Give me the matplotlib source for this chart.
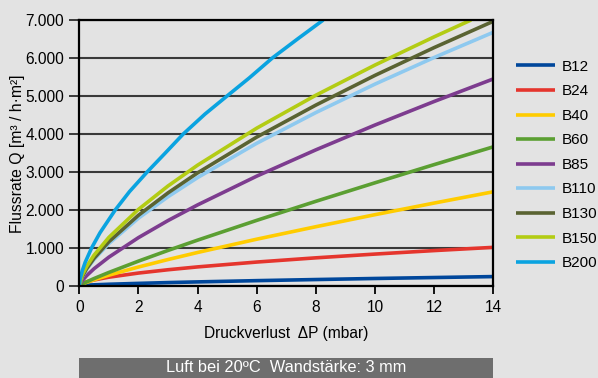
import matplotlib.pyplot as plt
from matplotlib.patches import Rectangle

plt.rcParams['font.family'] = ['Liberation Sans', 'DejaVu Sans']

# Druckverlust (mbar) und Flussrate (m3/h*m2) je Typ
dp = [0, 0.1, 0.25, 0.5, 1, 2, 3, 4, 6, 8, 10, 12, 14]
q_b12 = [0, 8, 14, 23, 38, 61, 82, 100, 133, 162, 190, 215, 240]
q_b24 = [0, 60, 102, 151, 224, 333, 420, 495, 623, 734, 833, 925, 1010]
q_b40 = [0, 41, 88, 156, 277, 492, 689, 875, 1225, 1554, 1871, 2177, 2474]
q_b60 = [0, 45, 102, 189, 349, 647, 929, 1200, 1721, 2223, 2711, 3190, 3658]
q_b85 = [0, 134, 266, 448, 752, 1266, 1716, 2128, 2886, 3579, 4233, 4853, 5447]
q_b110 = [0, 232, 432, 692, 1110, 1778, 2344, 2848, 3752, 4561, 5311, 6012, 6676]
q_b130 = [0, 242, 451, 722, 1158, 1855, 2445, 2972, 3915, 4758, 5541, 6273, 6966]

dp_b150 = [0, 0.1, 0.25, 0.5, 1, 2, 3, 4, 6, 8, 10, 12, 13.25]
q_b150 = [0, 278, 509, 806, 1273, 2010, 2627, 3175, 4150, 5018, 5813, 6556, 7000]

dp_b200 = [0, 0.03, 0.1, 0.2, 0.42, 0.7, 1.22, 1.7, 2.3, 2.9, 3.52, 4.25,
           5.0, 5.75, 6.53, 7.4, 8.25]
q_b200 = [0, 180, 393, 617, 1000, 1394, 2000, 2481, 3000, 3489, 4000, 4521,
          5000, 5475, 6000, 6511, 7000]

names = ['B12', 'B24', 'B40', 'B60', 'B85', 'B110', 'B130', 'B150', 'B200']
colors = ['#00479b', '#e5352d', '#ffcc00', '#5b9f32', '#7d3c8f',
          '#8ec9ef', '#5a6332', '#b3cc14', '#0aa3e0']

xticks = [0, 2, 4, 6, 8, 10, 12, 14]
yticks = [0, 1000, 2000, 3000, 4000, 5000, 6000, 7000]
ytick_labels = ['0', '1.000', '2.000', '3.000', '4.000', '5.000', '6.000', '7.000']

bg = '#e3e3e3'
fs = 11.2

fig = plt.figure(figsize=(5.98, 3.78), dpi=100)
fig.patch.set_facecolor(bg)
ax = fig.add_axes([0.1326, 0.2442, 0.6923, 0.7029])
ax.set_facecolor(bg)

series = [
    (dp, q_b12), (dp, q_b24), (dp, q_b40), (dp, q_b60), (dp, q_b85),
    (dp, q_b110), (dp, q_b130), (dp_b150, q_b150), (dp_b200, q_b200),
]
for (x, y), name, c in zip(series, names, colors):
    ax.plot(x, y, color=c, lw=2.6, label=name, solid_capstyle='butt')

ax.set_xlim(0, 14)
ax.set_ylim(0, 7000)
ax.set_xticks(xticks)
ax.set_yticks(yticks)
ax.set_yticklabels(ytick_labels)
ax.tick_params(axis='both', labelsize=fs, colors='black', pad=4)
ax.tick_params(axis='x', length=6, width=1.3, direction='out')
ax.tick_params(axis='y', length=7, width=1.4, direction='out', color='#3a3a3a')
ax.grid(axis='y', color='#3a3a3a', lw=1.5)
ax.set_axisbelow(True)
for side in ['left', 'bottom', 'top', 'right']:
    ax.spines[side].set_color('black')
    ax.spines[side].set_linewidth(1.6)

ax.set_xlabel('Druckverlust  ΔP (mbar)', fontsize=fs, labelpad=8)
fig.text(18 / 598, 1 - 154 / 378, 'Flussrate Q [m³ / h·m²]', fontsize=11.3,
         rotation=90, ha='center', va='center')

leg = fig.legend(loc='upper left', bbox_to_anchor=(0.8527, 0.858),
                 frameon=False, fontsize=11, handlelength=2.55,
                 handletextpad=0.46, labelspacing=0.69, borderaxespad=0)
for h in leg.get_lines():
    h.set_linewidth(2.6)

# Hinweisbalken unter dem Diagramm
fig.patches.append(Rectangle((0.1326, 0.0), 0.6923, 20 / 378,
                             transform=fig.transFigure, facecolor='#6e6e6e',
                             edgecolor='none'))
fig.text(0.1326 + 0.6923 / 2, 10 / 378, 'Luft bei 20ºC  Wandstärke: 3 mm',
         color='white', fontsize=11.8, ha='center', va='center')

fig.savefig('out.png', dpi=100, facecolor=bg)
